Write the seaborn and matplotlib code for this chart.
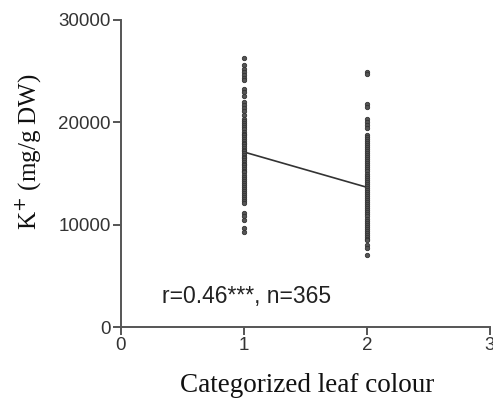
import matplotlib
matplotlib.use("Agg")
import matplotlib.pyplot as plt
import seaborn as sns
import pandas as pd

# data
colour1_k = [26300, 25600, 25200, 24900, 24600, 24300, 24100, 23300, 23000, 22600,
             22000, 21700, 21400, 21100, 20700,
             20300, 20100, 19900, 19700, 19500, 19300, 19100, 18900, 18800, 18600,
             18400, 18200, 18000, 17900, 17700, 17500, 17300, 17200, 17000, 16800,
             16600, 16500, 16300, 16100, 15900, 15800, 15600, 15400, 15200, 15100,
             14900, 14700, 14500, 14300, 14100, 13900, 13700, 13500, 13300, 13100,
             12900, 12700, 12500, 12300, 12100,
             11100, 10800, 10500, 9700, 9300]
colour2_k = [24900, 24700, 21800, 21500, 20300, 20000, 19700, 19400,
             18800, 18600, 18400, 18200, 18000, 17800, 17600, 17400, 17200, 17000,
             16800, 16600, 16400, 16200, 16000, 15800, 15600, 15400, 15200, 15000,
             14800, 14600, 14400, 14200, 14000, 13800, 13600, 13400, 13200, 13000,
             12800, 12600, 12400, 12200, 12000, 11800, 11600, 11400, 11200, 11000,
             10800, 10600, 10400, 10200, 10000, 9800, 9600, 9400, 9200, 9000,
             8800, 8600, 8500,
             8000, 7700, 7000]
trend_x = [1, 2]
trend_y = [17100, 13650]
x_ticks = [0, 1, 2, 3]
y_ticks = [0, 10000, 20000, 30000]
annotation = "r=0.46***, n=365"

df = pd.DataFrame({
    "colour": [1] * len(colour1_k) + [2] * len(colour2_k),
    "k": colour1_k + colour2_k,
})

sns.set_theme(style="ticks")
plt.rcParams["font.family"] = ["Liberation Sans", "DejaVu Sans"]

fig = plt.figure(figsize=(4.93, 4.08), dpi=100)
ax = fig.add_axes([121 / 493, 1 - 327 / 408, (490 - 121) / 493, (327 - 20) / 408])

sns.scatterplot(data=df, x="colour", y="k", ax=ax, s=10, color="#555555",
                edgecolor="#333333", linewidth=0.6, zorder=3, clip_on=False)
sns.lineplot(x=trend_x, y=trend_y, ax=ax, color="#333333", linewidth=1.2, zorder=2)

ax.set_xlim(0, 3)
ax.set_ylim(0, 30000)
ax.set_xticks(x_ticks)
ax.set_yticks(y_ticks)
ax.set_xticklabels([str(t) for t in x_ticks])
ax.set_yticklabels([str(t) for t in y_ticks])

for side in ["top", "right"]:
    ax.spines[side].set_visible(False)
for side in ["left", "bottom"]:
    ax.spines[side].set_color("#555555")
    ax.spines[side].set_linewidth(1.4)
ax.tick_params(axis="both", direction="out", length=5.5, width=1.4, color="#555555",
               labelsize=13.5, labelcolor="#333333", pad=2)

ax.set_xlabel("")
ax.set_ylabel("")
fig.text(307 / 493, 1 - 385 / 408, "Categorized leaf colour",
         family=["Liberation Serif", "DejaVu Serif"], fontsize=19.5,
         color="#111111", ha="center", va="center")
fig.text(28 / 493, 1 - 152 / 408, "K$^{+}$ (mg/g DW)",
         family=["Liberation Serif", "DejaVu Serif"], fontsize=18,
         color="#111111", ha="center", va="center", rotation=90)

ax.text(0.33, 3000, annotation, fontsize=16.5, color="#222222", va="center", ha="left")

fig.savefig("out.png", dpi=100)
